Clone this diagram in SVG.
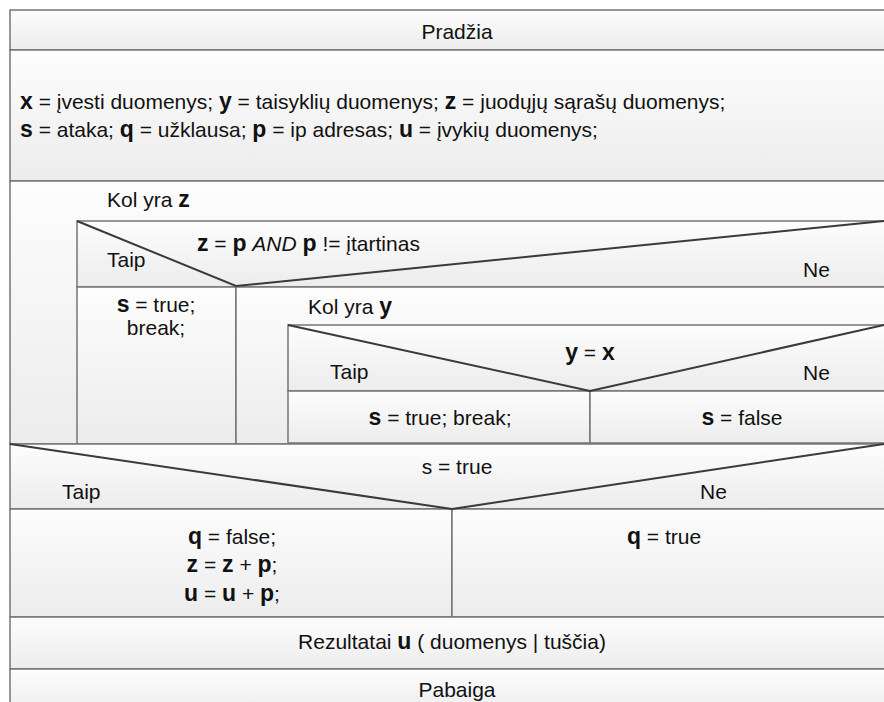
<svg xmlns="http://www.w3.org/2000/svg" width="884" height="702" viewBox="0 0 884 702">
<defs>
<linearGradient id="g" x1="0" y1="0" x2="0" y2="1">
<stop offset="0" stop-color="#fdfdfd"/>
<stop offset="1" stop-color="#ececec"/>
</linearGradient>
<style>
.box{fill:url(#g);stroke:#757575;stroke-width:1.5}
.diag{stroke:#3a3a3a;stroke-width:2;fill:none}
text{font-family:"Liberation Sans",Arial,sans-serif;font-size:21px;fill:#111}
.c{text-anchor:middle}
.b{font-weight:bold;font-size:23px}
.i{font-style:italic}
</style>
</defs>
<rect width="884" height="702" fill="#ffffff"/>
<g id="start">
<rect class="box" x="10" y="10" width="890" height="40"/>
<text class="c" x="457" y="39">Pradžia</text>
</g>
<g id="init">
<rect class="box" x="10" y="50" width="890" height="131"/>
<text x="20" y="109"><tspan class="b">x</tspan> = įvesti duomenys; <tspan class="b">y</tspan> = taisyklių duomenys; <tspan class="b">z</tspan> = juodųjų sąrašų duomenys;</text>
<text x="20" y="137"><tspan class="b">s</tspan> = ataka; <tspan class="b">q</tspan> = užklausa; <tspan class="b">p</tspan> = ip adresas; <tspan class="b">u</tspan> = įvykių duomenys;</text>
</g>
<g id="loop-z">
<rect class="box" x="10" y="181" width="890" height="263"/>
<text x="107" y="207">Kol yra <tspan class="b">z</tspan></text>
</g>
<g id="decision-z">
<rect class="box" x="77" y="221" width="823" height="66"/>
<text x="107" y="267">Taip</text>
<text x="197" y="251"><tspan class="b">z</tspan> = <tspan class="b">p</tspan> <tspan class="i">AND</tspan> <tspan class="b">p</tspan> != įtartinas</text>
<text x="803" y="277">Ne</text>
</g>
<g id="yes-z">
<rect class="box" x="77" y="287" width="159" height="157"/>
<text class="c" x="156" y="312"><tspan class="b">s</tspan> = true;</text>
<text class="c" x="156" y="335">break;</text>
</g>
<g id="loop-y">
<rect class="box" x="236" y="287" width="664" height="157"/>
<text x="308" y="314">Kol yra <tspan class="b">y</tspan></text>
</g>
<g id="decision-y">
<rect class="box" x="288" y="325" width="612" height="66"/>
<text class="c" x="590" y="360"><tspan class="b">y</tspan> = <tspan class="b">x</tspan></text>
<text x="330" y="379">Taip</text>
<text x="803" y="380">Ne</text>
</g>
<g id="yes-y">
<rect class="box" x="288" y="391" width="302" height="52"/>
<text class="c" x="440" y="425"><tspan class="b">s</tspan> = true; break;</text>
</g>
<g id="no-y">
<rect class="box" x="590" y="391" width="310" height="52"/>
<text class="c" x="742" y="425"><tspan class="b">s</tspan> = false</text>
</g>
<g id="decision-s">
<rect class="box" x="10" y="444" width="890" height="65"/>
<text class="c" x="457" y="474">s = true</text>
<text x="62" y="499">Taip</text>
<text x="700" y="499">Ne</text>
</g>
<g id="yes-s">
<rect class="box" x="10" y="509" width="442" height="108"/>
<text class="c" x="232" y="544"><tspan class="b">q</tspan> = false;</text>
<text class="c" x="232" y="572"><tspan class="b">z</tspan> = <tspan class="b">z</tspan> + <tspan class="b">p</tspan>;</text>
<text class="c" x="232" y="601"><tspan class="b">u</tspan> = <tspan class="b">u</tspan> + <tspan class="b">p</tspan>;</text>
</g>
<g id="no-s">
<rect class="box" x="452" y="509" width="448" height="108"/>
<text class="c" x="664" y="544"><tspan class="b">q</tspan> = true</text>
</g>
<g id="result">
<rect class="box" x="10" y="617" width="890" height="52"/>
<text class="c" x="452" y="649">Rezultatai <tspan class="b">u</tspan> ( duomenys | tuščia)</text>
</g>
<g id="end">
<rect class="box" x="10" y="669" width="890" height="45"/>
<text class="c" x="457" y="697">Pabaiga</text>
</g>
<g id="connectors">
<polyline class="diag" points="77,221 236,286 884,221"/>
<polyline class="diag" points="288,325 590,391 884,325"/>
<polyline class="diag" points="10,444 452,509 884,444"/>
</g>
</svg>
